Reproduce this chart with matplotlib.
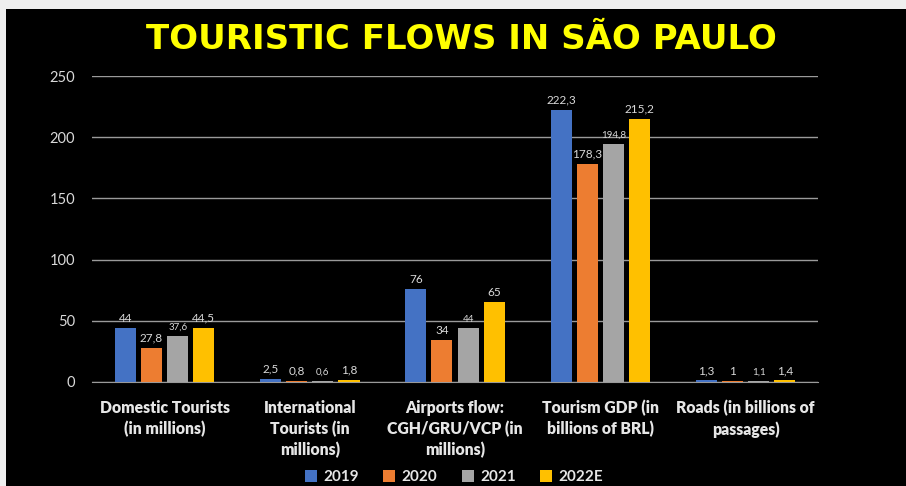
import matplotlib.pyplot as plt
import numpy as np
from matplotlib.patches import Rectangle

categories = ["Domestic Tourists\n(in millions)",
              "International\nTourists (in\nmillions)",
              "Airports flow:\nCGH/GRU/VCP (in\nmillions)",
              "Tourism GDP (in\nbillions of BRL)",
              "Roads (in billions of\npassages)"]
years = ["2019", "2020", "2021", "2022E"]
v2019 = [44, 2.5, 76, 222.3, 1.3]
v2020 = [27.8, 0.8, 34, 178.3, 1]
v2021 = [37.6, 0.6, 44, 194.8, 1.1]
v2022 = [44.5, 1.8, 65, 215.2, 1.4]
series = [v2019, v2020, v2021, v2022]
colors = ["#4472C4", "#ED7D31", "#A5A5A5", "#FFC000"]
label_sizes = [8.5, 8.5, 7, 8.5]

plt.rcParams['font.family'] = ['Lato', 'DejaVu Sans']

fig = plt.figure(figsize=(9.06, 4.86), dpi=100, facecolor="black")
# light frame strips along top and left edge
fig.patches.append(Rectangle((0, 1 - 9/486), 1, 9/486, transform=fig.transFigure,
                             facecolor="#efefef", edgecolor="none", zorder=0))
fig.patches.append(Rectangle((0, 0), 6/906, 1, transform=fig.transFigure,
                             facecolor="#efefef", edgecolor="none", zorder=0))

ax = fig.add_axes([0.1015, 0.214, 0.8015, 0.6296])
ax.set_facecolor("black")

x = np.arange(len(categories))
width = 0.145
step = 0.18
for i, (vals, col, name) in enumerate(zip(series, colors, years)):
    pos = x + (i - 1.5) * step
    bars = ax.bar(pos, vals, width, color=col, label=name, zorder=3)
    for b, v in zip(bars, vals):
        txt = f"{v:g}".replace(".", ",")
        ax.annotate(txt, (b.get_x() + b.get_width() / 2, v),
                    xytext=(0, 3), textcoords="offset points",
                    ha="center", va="bottom", color="#d9d9d9",
                    fontsize=label_sizes[i], zorder=4)

ax.set_xlim(-0.5, len(categories) - 0.5)
ax.set_ylim(0, 250)
ax.set_yticks(range(0, 251, 50))
ax.yaxis.grid(True, color="#9a9a9a", linewidth=1, zorder=0)
ax.set_axisbelow(True)
for s in ["top", "right", "left"]:
    ax.spines[s].set_visible(False)
ax.spines["bottom"].set_color("#9a9a9a")
ax.tick_params(axis="y", length=0, pad=12, colors="#d9d9d9", labelsize=10.5)
ax.tick_params(axis="x", length=0, pad=13)
ax.set_xticks(x)
ax.set_xticklabels(categories, color="#e6e6e6", fontsize=11.3,
                   fontweight="heavy", linespacing=1.35)

fig.text(0.509, 0.918, "TOURISTIC FLOWS IN SÃO PAULO", color="#FFFF00",
         fontsize=24.5, fontweight="bold", ha="center", va="center",
         family="DejaVu Sans")

leg = fig.legend(loc="center", bbox_to_anchor=(0.501, 0.018), ncol=4,
                 frameon=False, handlelength=0.8, handleheight=0.8,
                 handletextpad=0.4, columnspacing=1.6,
                 prop={"weight": "bold", "size": 11})
for t in leg.get_texts():
    t.set_color("#e6e6e6")

fig.savefig("out.png", dpi=100, facecolor=fig.get_facecolor())
